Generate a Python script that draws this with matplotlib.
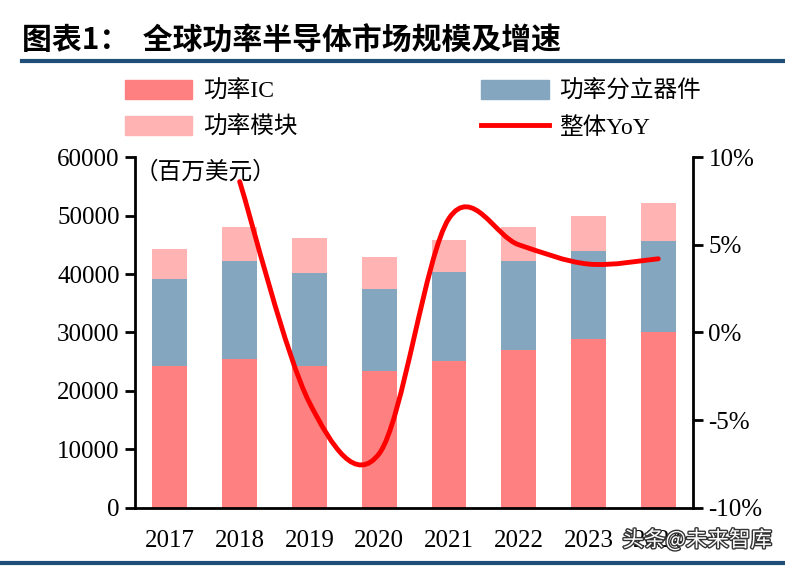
import matplotlib
matplotlib.use("Agg")
import numpy as np
import matplotlib.pyplot as plt
from matplotlib.path import Path
from matplotlib.patches import PathPatch, Patch
from matplotlib.lines import Line2D
import matplotlib.patheffects as pe

plt.rcParams['font.family'] = ['Liberation Serif', 'Noto Sans CJK SC']

years = ['2017', '2018', '2019', '2020', '2021', '2022', '2023', '2024']
power_ic = [24300, 25500, 24300, 23400, 25200, 27000, 28900, 30100]
discrete = [14800, 16700, 15800, 14000, 15100, 15200, 15000, 15500]
module = [5100, 5800, 6000, 5500, 5500, 5800, 6000, 6500]
yoy_years = [1, 2, 3, 4, 5, 6, 7]  # index into years, 2018..2024
yoy = [8.6, -4.0, -6.9, 6.5, 5.0, 3.9, 4.2]

c_ic = '#FF8080'
c_dis = '#84A6BE'
c_mod = '#FFB3B3'
c_blue = '#1F4E79'

fig = plt.figure(figsize=(7.85, 5.66), dpi=100)
ax = fig.add_axes([0.172, 0.1025, 0.711, 0.6201])

x = np.arange(len(years))
ax.bar(x, power_ic, width=0.5, color=c_ic)
ax.bar(x, discrete, width=0.5, bottom=power_ic, color=c_dis)
bottom2 = np.array(power_ic) + np.array(discrete)
ax.bar(x, module, width=0.5, bottom=bottom2, color=c_mod)

ax.set_xlim(-0.5, 7.5)
ax.set_ylim(0, 60000)
ax.set_yticks(range(0, 60001, 10000))
ax.set_xticks(x)
ax.set_xticklabels(years)
ax.tick_params(axis='x', length=0, pad=16, labelsize=18)
ax.tick_params(axis='y', length=7, width=2, direction='out', labelsize=18, pad=4)
for s in ['top', 'right']:
    ax.spines[s].set_visible(False)
for s in ['left', 'bottom']:
    ax.spines[s].set_linewidth(2)

ax2 = ax.twinx()
ax2.set_ylim(-10, 10)
ax2.set_yticks([-10, -5, 0, 5, 10])
ax2.set_yticklabels(['-10%', '-5%', '0%', '5%', '10%'])
ax2.tick_params(axis='y', length=7, width=2, direction='out', labelsize=18, pad=4)
for s in ['top', 'left', 'bottom']:
    ax2.spines[s].set_visible(False)
ax2.spines['right'].set_linewidth(2)

# smoothed line (Catmull-Rom style bezier through the data points)
px = np.array(yoy_years, dtype=float)
py = np.array(yoy, dtype=float)
verts = [(px[0], py[0])]
codes = [Path.MOVETO]
n = len(px)
for i in range(n - 1):
    p0 = np.array([px[max(i - 1, 0)], py[max(i - 1, 0)]])
    p1 = np.array([px[i], py[i]])
    p2 = np.array([px[i + 1], py[i + 1]])
    p3 = np.array([px[min(i + 2, n - 1)], py[min(i + 2, n - 1)]])
    c1 = p1 + (p2 - p0) / 6
    c2 = p2 - (p3 - p1) / 6
    verts += [tuple(c1), tuple(c2), tuple(p2)]
    codes += [Path.CURVE4] * 3
ax2.add_patch(PathPatch(Path(verts, codes), facecolor='none', edgecolor='#FF0000',
                        lw=3.5, zorder=5, capstyle='round'))

ax.text(0.0, 0.99, '（百万美元）', transform=ax.transAxes, ha='left', va='top',
        fontsize=17, family=['Noto Sans CJK SC'], zorder=6)

# legend
handles = [Patch(color=c_ic), Patch(color=c_mod), Patch(color=c_dis),
           Line2D([0], [0], color='#FF0000', lw=3.5)]
labels = ['功率IC', '功率模块', '功率分立器件', '整体YoY']
fig.legend(handles, labels, ncol=2, loc='upper left', bbox_to_anchor=(0.159, 0.858),
           frameon=False, handlelength=2.85, handleheight=0.85,
           columnspacing=7.8, labelspacing=0.55, handletextpad=0.45,
           borderpad=0, borderaxespad=0,
           prop={'family': ['Liberation Serif', 'Noto Sans CJK SC'], 'size': 17})

# title and rules
fig.text(0.028, 0.929, '图表1：  全球功率半导体市场规模及增速', fontsize=21.5, fontweight='bold',
         family=['Noto Sans CJK SC'], ha='left', va='center')
fig.add_artist(Line2D([0.028, 1.0], [0.893, 0.893], color=c_blue, lw=3))
fig.add_artist(Line2D([0.0, 1.0], [0.006, 0.006], color=c_blue, lw=3))

# watermark
fig.text(0.888, 0.045, '头条@未来智库', fontsize=15.5, color='white', family=['Noto Sans CJK SC'],
         ha='center', va='center',
         path_effects=[pe.withStroke(linewidth=2, foreground='#333333')])

fig.savefig('out.png', dpi=100)
